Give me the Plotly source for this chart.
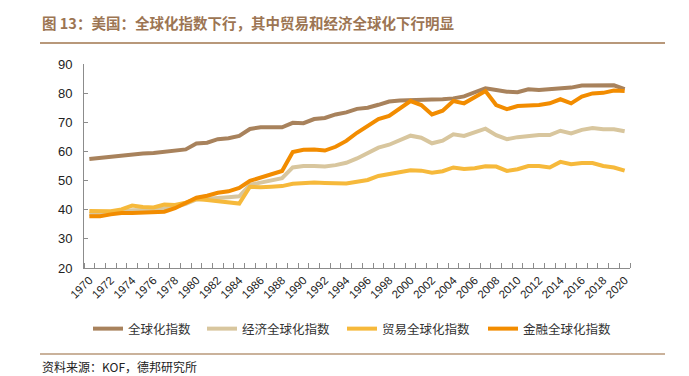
import plotly.graph_objects as go

years = list(range(1970, 2021))

global_idx = [57.4, 57.8, 58.0, 58.5, 59.1, 59.3, 59.5, 60.0, 60.3, 60.7,
              62.7, 63.0, 64.2, 64.5, 65.3, 67.7, 68.3, 68.2, 68.3, 69.8,
              69.7, 71.1, 71.5, 72.7, 73.4, 74.6, 75.0, 76.0, 77.1, 77.5,
              77.7, 77.6, 77.8, 77.9, 78.2, 78.9, 80.3, 81.7, 81.1, 80.5,
              80.3, 81.3, 81.1, 81.4, 81.9, 81.9, 82.6, 82.7, 82.6, 82.7,
              81.4]
econ_idx = [38.5, 38.5, 38.8, 39.3, 39.8, 39.9, 40.0, 40.5, 40.9, 42.0,
            43.5, 43.8, 44.2, 44.3, 44.6, 48.5, 49.3, 49.9, 50.8, 54.5,
            55.0, 55.0, 54.8, 55.3, 56.1, 57.6, 59.4, 61.3, 62.3, 63.9,
            65.4, 64.7, 62.8, 63.7, 65.9, 65.3, 66.6, 67.8, 65.6, 64.2,
            64.9, 65.3, 65.6, 65.6, 67.1, 66.2, 67.4, 68.0, 67.6, 67.6,
            66.9]
trade_idx = [39.6, 39.4, 39.5, 40.1, 41.4, 40.9, 40.8, 41.8, 41.6, 42.4,
             43.7, 43.3, 43.0, 42.6, 42.1, 47.9, 47.7, 47.9, 48.1, 48.9,
             49.2, 49.3, 49.2, 49.1, 49.0, 49.6, 50.2, 51.6, 52.3, 52.7,
             53.5, 53.4, 52.7, 53.2, 54.5, 54.0, 54.2, 54.9, 54.8, 53.3,
             53.9, 55.0, 55.0, 54.5, 56.4, 55.6, 56.0, 56.0, 55.0, 54.5,
             53.4]
fin_idx = [37.8, 37.8, 38.4, 38.9, 38.9, 39.1, 39.3, 39.3, 40.5, 42.4,
           44.1, 44.8, 45.8, 46.3, 47.5, 49.9, 51.0, 51.9, 53.3, 59.8,
           60.6, 60.7, 60.3, 61.6, 63.6, 66.4, 68.8, 71.1, 72.2, 74.8,
           77.3, 75.9, 72.7, 74.0, 77.3, 76.5, 78.8, 80.7, 75.9, 74.5,
           75.6, 75.6, 75.9, 76.5, 77.9, 76.5, 78.8, 79.9, 80.1, 80.9,
           80.7]

series_names = ["全球化指数", "经济全球化指数", "贸易全球化指数", "金融全球化指数"]
series_colors = ["#A8825C", "#D8C69E", "#F6B93B", "#F28C00"]
series_values = [global_idx, econ_idx, trade_idx, fin_idx]

x_tick_labels = [str(y) for y in range(1970, 2021, 2)]
y_ticks = [20, 30, 40, 50, 60, 70, 80, 90]

title_text = "图 13：美国：全球化指数下行，其中贸易和经济全球化下行明显"
source_text = "资料来源：KOF，德邦研究所"

W, H = 689, 376
L, R, T, B = 84, 59, 64, 108
pw, ph = W - L - R, H - T - B

def px(xp):
    return (xp - L) / pw

def py(yp):
    return (H - B - yp) / ph

cjk = "Noto Sans CJK SC"
legend_ids = ["legend", "legend2", "legend3", "legend4"]
legend_px = [88, 202, 342, 483]

fig = go.Figure()
for name, color, vals, lid in zip(series_names, series_colors, series_values, legend_ids):
    fig.add_trace(go.Scatter(x=years, y=vals, mode="lines", name=name, legend=lid,
                             line=dict(color=color, width=4)))

legend_layout = {}
for lid, lx in zip(legend_ids, legend_px):
    legend_layout[lid] = dict(orientation="h", x=px(lx), y=py(329),
                              xanchor="left", yanchor="middle",
                              font=dict(family=cjk, size=12.5, color="#333333"),
                              bgcolor="rgba(0,0,0,0)", itemwidth=30)

fig.update_layout(
    width=W, height=H,
    margin=dict(l=L, r=R, t=T, b=B, autoexpand=False),
    paper_bgcolor="white", plot_bgcolor="white",
    showlegend=True,
    font=dict(family="Liberation Sans, Arial", color="#222222"),
    xaxis=dict(range=[1969.5, 2020.5], tickmode="array", automargin=False,
               tickvals=list(range(1970, 2021, 2)), ticktext=x_tick_labels,
               ticks="", tickangle=-45, showgrid=False, zeroline=False,
               showline=True, linecolor="#8C8C8C", linewidth=1,
               tickfont=dict(family="Liberation Sans, Arial", size=11.5, color="#222222"),
               minor=dict(tickmode="array", tickvals=[y - 0.5 for y in range(1970, 2022)],
                          ticks="inside", ticklen=5, tickcolor="#8C8C8C", showgrid=False)),
    yaxis=dict(range=[20, 90], tickmode="array", tickvals=y_ticks, automargin=False,
               ticks="inside", ticklen=4, tickcolor="#8C8C8C",
               showgrid=False, zeroline=False, showline=True,
               linecolor="#8C8C8C", linewidth=1, ticklabelstandoff=8,
               tickfont=dict(family="Liberation Sans, Arial", size=13, color="#222222")),
    annotations=[
        dict(text=title_text, xref="paper", yref="paper", x=px(40), y=py(22),
             xanchor="left", yanchor="middle", showarrow=False,
             font=dict(family=cjk, size=14.5, color="#9C7553", weight="bold")),
        dict(text=source_text, xref="paper", yref="paper", x=px(40), y=py(366),
             xanchor="left", yanchor="middle", showarrow=False,
             font=dict(family=cjk, size=12, color="#222222")),
    ],
    shapes=[
        dict(type="line", xref="paper", yref="paper", x0=px(40), x1=px(665),
             y0=py(43), y1=py(43), line=dict(color="#B8987A", width=2)),
        dict(type="line", xref="paper", yref="paper", x0=px(40), x1=px(665),
             y0=py(354), y1=py(354), line=dict(color="#B8987A", width=1.5)),
    ],
    **legend_layout,
)

fig.write_html("out.html", config={"displayModeBar": False},
               post_script="document.body.style.margin='0px';")
